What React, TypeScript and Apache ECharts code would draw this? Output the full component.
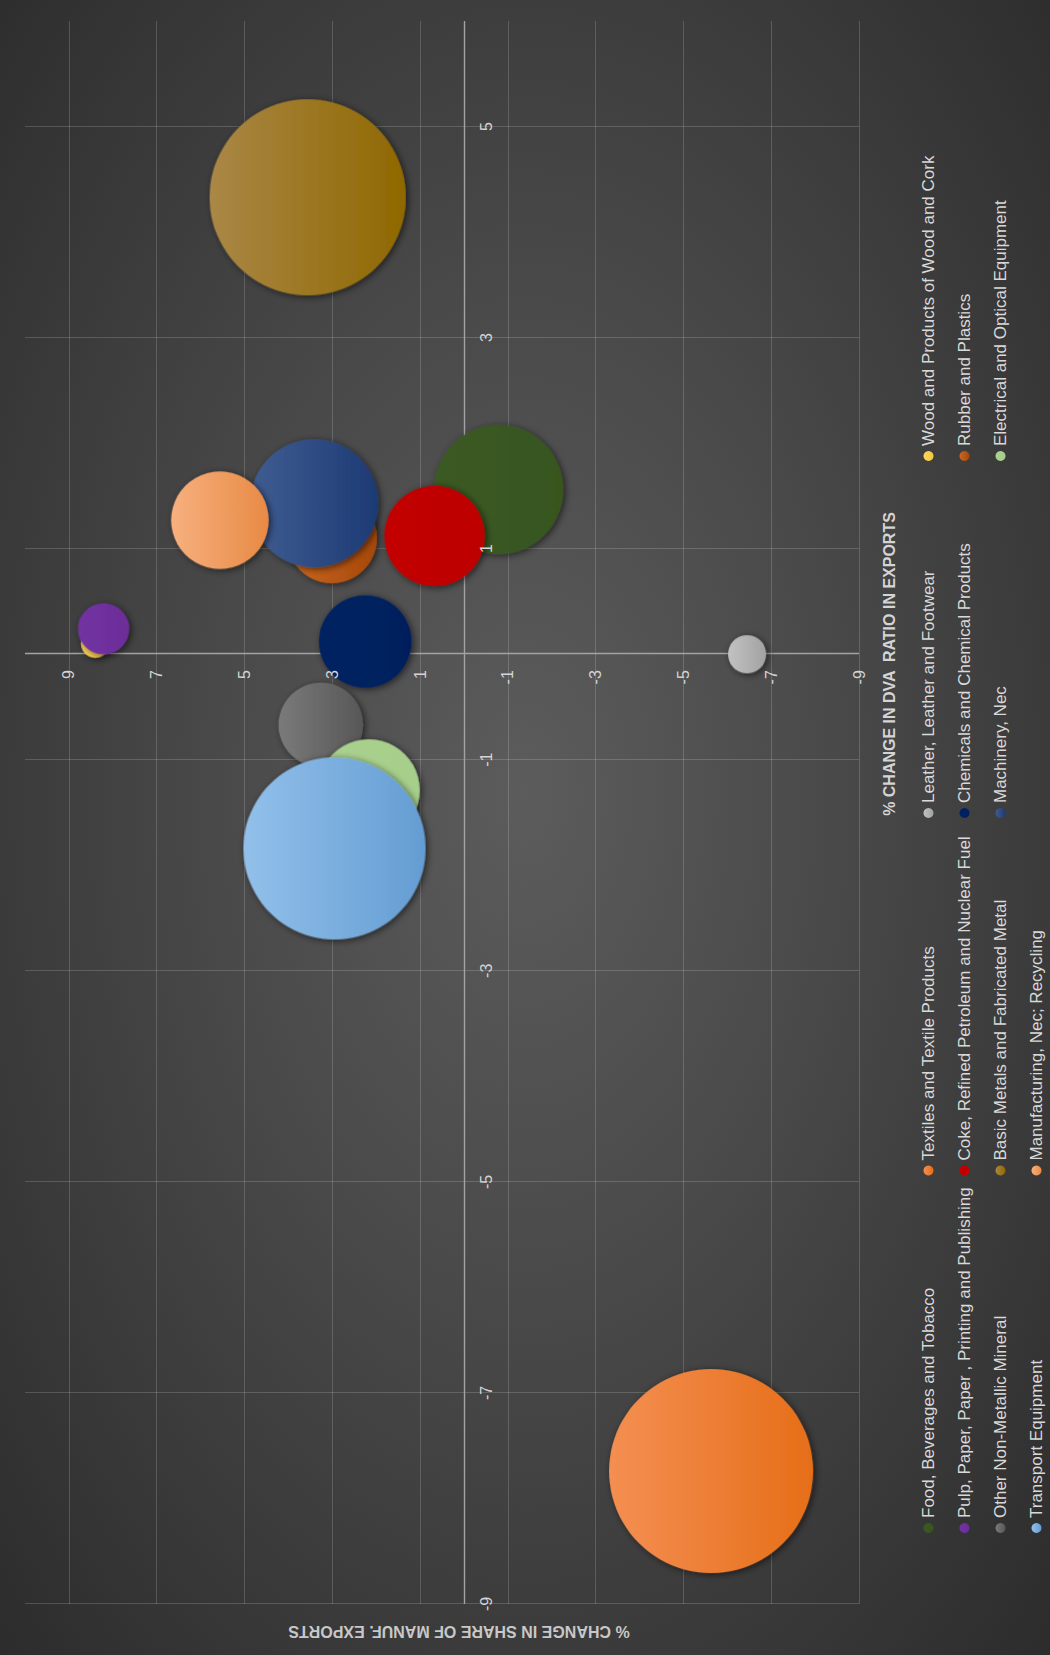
import React, { useEffect, useRef } from "react";
import * as echarts from "echarts";

// ---- data ----
const categories = [
  "Food, Beverages and Tobacco",
  "Textiles and Textile Products",
  "Leather, Leather and Footwear",
  "Wood and Products of Wood and Cork",
  "Pulp, Paper, Paper , Printing and Publishing",
  "Coke, Refined Petroleum and Nuclear Fuel",
  "Chemicals and Chemical Products",
  "Rubber and Plastics",
  "Other Non-Metallic Mineral",
  "Basic Metals and Fabricated Metal",
  "Machinery, Nec",
  "Electrical and Optical Equipment",
  "Transport Equipment",
  "Manufacturing, Nec; Recycling",
];

// % change in DVA ratio in exports (x of the upright chart)
const dvaChange = [1.56, -7.74, 0.0, 0.1, 0.24, 1.12, 0.12, 1.1, -0.67, 4.33, 1.43, -1.29, -1.84, 1.27];
// % change in share of manufacturing exports (y of the upright chart)
const shareChange = [-0.79, -5.63, -6.45, 8.4, 8.21, 0.67, 2.25, 3.01, 3.26, 3.56, 3.41, 2.17, 2.95, 5.56];
// bubble size values
const bubbleSize = [41.6, 104, 3.6, 2.0, 6.5, 25.2, 21.4, 20.3, 17.8, 96, 41, 26, 82.8, 23.7];

const colorTop = ["#3b5a23", "#f48f52", "#c2c2c2", "#ffd45a", "#7232a2", "#c20000", "#002262", "#cc6620", "#7a7a7a", "#aa8746", "#405d92", "#a9d18e", "#92c0ea", "#f7b07e"];
const colorBottom = ["#38551f", "#e66e18", "#a2a2a2", "#f5c843", "#6c2d99", "#bd0000", "#001f5c", "#a5480a", "#575757", "#8f6800", "#1d3a74", "#a6cf8a", "#649dd3", "#e88a45"];

// axis ranges and gridline / tick values
const dvaRange = [-9, 6];
const shareRange = [-9, 10];
const dvaGridValues = [-9, -7, -5, -3, -1, 1, 3, 5];
const shareGridValues = [-9, -7, -5, -3, -1, 1, 3, 5, 7, 9];

const legendColumns = [
  [0, 4, 8, 12],
  [1, 5, 9, 13],
  [2, 6, 10],
  [3, 7, 11],
];

const dvaTitle = "% CHANGE IN DVA  RATIO IN EXPORTS";
const shareTitle = "% CHANGE IN SHARE OF MANUF. EXPORTS";

const FONT = '"Liberation Sans", Arial, sans-serif';

const W = 1655;
const H = 1050;
const GRID = { left: 51, right: 21, top: 25, bottom: 191 };

export default function App() {
  const ref = useRef<HTMLDivElement>(null);

  useEffect(() => {
    if (!ref.current) return;
    const chart = echarts.init(ref.current, undefined, { renderer: "svg" });
    const colX = [127, 484.5, 842, 1199];

    // place each axis on the other axis' zero (axis crossing)
    const plotW = W - GRID.left - GRID.right;
    const plotH = H - GRID.top - GRID.bottom;
    const zeroXpx = GRID.left + ((0 - dvaRange[0]) / (dvaRange[1] - dvaRange[0])) * plotW;
    const zeroYpx = GRID.top + ((shareRange[1] - 0) / (shareRange[1] - shareRange[0])) * plotH;
    const xOffset = -(H - GRID.bottom - zeroYpx);
    const yOffset = -(zeroXpx - GRID.left);

    const axisCommon = {
      type: "value" as const,
      interval: 2,
      z: 10,
      axisLine: { show: false, onZero: false },
      axisTick: { show: false },
      splitLine: { show: false },
    };

    const gridLineStyle = { color: "rgba(255,255,255,0.17)", width: 1, type: "solid" as const };
    const axisLineStyle = { color: "#a3a3a3", width: 1.4, type: "solid" as const };

    chart.setOption({
      animation: false,
      backgroundColor: "transparent",
      grid: { ...GRID, containLabel: false },
      xAxis: {
        ...axisCommon,
        min: dvaRange[0],
        max: dvaRange[1],
        offset: xOffset,
        axisLabel: {
          color: "#d4d4d4",
          fontSize: 16,
          fontFamily: FONT,
          margin: 15,
          showMaxLabel: false,
        },
      },
      yAxis: {
        ...axisCommon,
        min: shareRange[0],
        max: shareRange[1],
        offset: yOffset,
        axisLabel: {
          color: "#d4d4d4",
          fontSize: 16,
          fontFamily: FONT,
          margin: 16,
          showMaxLabel: false,
        },
      },
      legend: legendColumns.map((col, i) => ({
        data: col.map((k) => categories[k]),
        orient: "vertical",
        left: colX[i] - 5,
        top: 920,
        height: 220,
        padding: 0,
        itemWidth: 10,
        itemHeight: 10,
        itemGap: 19,
        icon: "circle",
        selectedMode: false,
        textStyle: { color: "#d9d9d9", fontSize: 17, fontFamily: FONT },
        itemStyle: { shadowBlur: 0, shadowOffsetX: 0, shadowOffsetY: 0 },
      })),
      graphic: [
        {
          type: "text",
          x: 991,
          y: 889,
          style: {
            text: dvaTitle,
            fill: "#d4d4d4",
            fontSize: 16,
            fontWeight: "bold",
            fontFamily: FONT,
            align: "center",
            verticalAlign: "middle",
          },
        },
        {
          type: "text",
          x: 24,
          y: 459,
          rotation: Math.PI / 2,
          style: {
            text: shareTitle,
            fill: "#c8c8c8",
            fontSize: 16,
            fontWeight: "bold",
            fontFamily: FONT,
            align: "center",
            verticalAlign: "middle",
          },
        },
      ],
      series: [
        {
          name: "__grid",
          type: "scatter",
          data: [],
          silent: true,
          z: 1,
          markLine: {
            z: 1,
            silent: true,
            symbol: ["none", "none"],
            label: { show: false },
            lineStyle: gridLineStyle,
            emphasis: { disabled: true },
            data: [
              ...dvaGridValues.map((v) => ({ xAxis: v })),
              ...shareGridValues.map((v) => ({ yAxis: v })),
              { xAxis: 0, lineStyle: axisLineStyle },
              { yAxis: 0, lineStyle: axisLineStyle },
            ],
          },
        },
        ...categories.map((name, i) => ({
          name,
          type: "scatter",
          z: 3,
          data: [[dvaChange[i], shareChange[i], bubbleSize[i]]],
          symbolSize: (v: number[]) => 20 * Math.sqrt(v[2]),
          itemStyle: {
            opacity: 1,
            color: new echarts.graphic.LinearGradient(0, 0, 0, 1, [
              { offset: 0, color: colorTop[i] },
              { offset: 1, color: colorBottom[i] },
            ]),
            shadowBlur: 7,
            shadowColor: "rgba(0,0,0,0.6)",
            shadowOffsetX: -1.5,
            shadowOffsetY: 2,
          },
          emphasis: { disabled: true },
        })),
      ],
    });

    return () => chart.dispose();
  }, []);

  return (
    <div
      style={{
        position: "absolute",
        left: 0,
        top: 0,
        width: 1050,
        height: 1655,
        overflow: "hidden",
        background:
          "radial-gradient(ellipse farthest-corner at 50% 48%, #5c5c5c 0%, #4a4a4a 40%, #2c2c2c 100%)",
      }}
    >
      <div
        ref={ref}
        style={{
          position: "absolute",
          left: 0,
          top: 0,
          width: W,
          height: H,
          transformOrigin: "0 0",
          transform: `translateY(${W}px) rotate(-90deg)`,
        }}
      />
    </div>
  );
}
